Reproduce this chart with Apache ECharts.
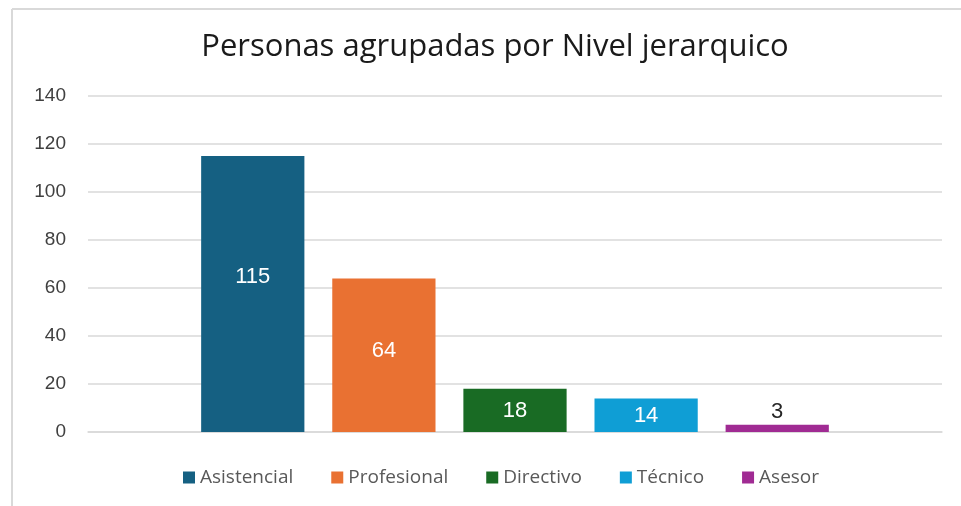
<!DOCTYPE html>
<html>
<head>
<meta charset="utf-8">
<script src="https://cdn.jsdelivr.net/npm/echarts@6/dist/echarts.min.js"></script>
<style>
  html, body { margin: 0; padding: 0; background: #fff; }
  #main { width: 961px; height: 506px; }
</style>
</head>
<body>
<div id="main"></div>
<script>
// datos del grafico
var categorias = [''];
var niveles = ['Asistencial', 'Profesional', 'Directivo', 'Técnico', 'Asesor'];
var valores = [115, 64, 18, 14, 3];
var colores = ['#156082', '#E97132', '#196B24', '#0F9ED5', '#A02B93'];
var yTicks = [0, 20, 40, 60, 80, 100, 120, 140];

var myChart = echarts.init(document.getElementById('main'));

var series = niveles.map(function (nombre, i) {
    var pequeno = valores[i] < 10;
    return {
        name: nombre,
        type: 'bar',
        data: [valores[i]],
        barGap: '27%',
        barCategoryGap: '26.5%',
        itemStyle: { color: colores[i] },
        label: {
            show: true,
            position: pequeno ? 'top' : 'inside',
            offset: i === 0 ? [0, -17] : (i === 1 ? [0, -4] : [0, 1]),
            color: pequeno ? '#262626' : '#ffffff',
            fontSize: 22,
            fontFamily: 'Liberation Sans',
            distance: 3
        }
    };
});

var option = {
    backgroundColor: '#ffffff',
    animation: false,
    title: {
        text: 'Personas agrupadas por Nivel jerarquico',
        left: 490,
        textAlign: 'center',
        top: 27,
        textStyle: {
            fontFamily: 'Open Sans',
            fontWeight: 'normal',
            fontSize: 31,
            color: '#1a1a1a'
        }
    },
    legend: {
        data: niveles,
        bottom: 14,
        left: 178,
        icon: 'rect',
        itemWidth: 12,
        itemHeight: 12,
        itemGap: 38,
        textStyle: {
            fontFamily: 'Open Sans',
            fontSize: 19,
            color: '#595959'
        }
    },
    grid: {
        left: 88,
        right: 19,
        top: 96,
        bottom: 74
    },
    xAxis: {
        type: 'category',
        data: categorias,
        axisLine: { show: true, lineStyle: { color: '#d9d9d9', width: 1.5 } },
        axisTick: { show: false },
        axisLabel: { show: false }
    },
    yAxis: {
        type: 'value',
        min: yTicks[0],
        max: yTicks[yTicks.length - 1],
        interval: 20,
        axisLine: { show: false },
        axisTick: { show: false },
        axisLabel: {
            margin: 22,
            fontFamily: 'Liberation Sans',
            fontSize: 19,
            color: '#404040'
        },
        splitLine: { lineStyle: { color: '#d9d9d9', width: 1.5 } }
    },
    graphic: [
        { type: 'line', shape: { x1: 12, y1: 9, x2: 961, y2: 9 }, style: { stroke: '#d9d9d9', lineWidth: 2 } },
        { type: 'line', shape: { x1: 12, y1: 9, x2: 12, y2: 506 }, style: { stroke: '#d9d9d9', lineWidth: 2 } }
    ],
    series: series
};

myChart.setOption(option);
</script>
</body>
</html>
